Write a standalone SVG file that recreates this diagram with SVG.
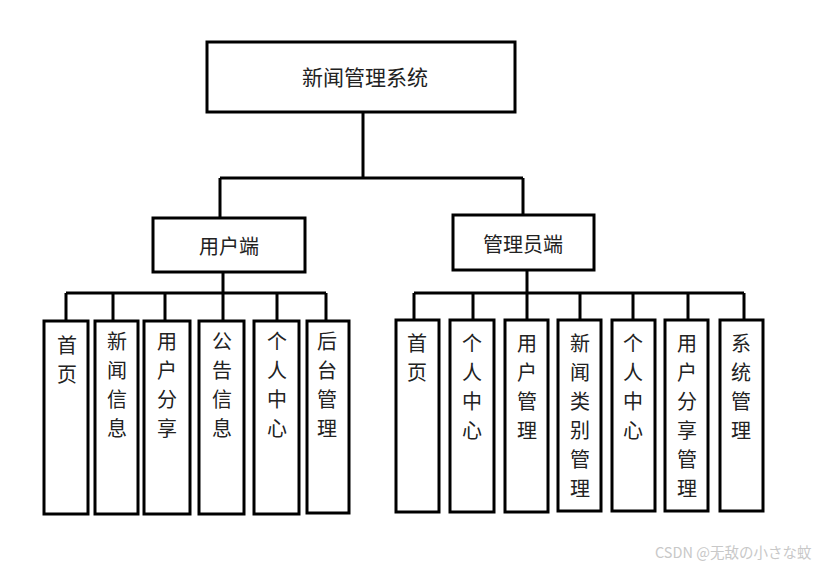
<svg xmlns="http://www.w3.org/2000/svg" width="830" height="569" viewBox="0 0 830 569">
<style>
.box{fill:#fff;stroke:#000;stroke-width:3}
.ln{fill:none;stroke:#000;stroke-width:3}
.t{font-family:"Noto Sans CJK SC","Noto Sans",sans-serif;font-size:20px;fill:#222;text-anchor:middle;dominant-baseline:central}
.wm{font-family:"Noto Sans CJK JP","Noto Sans CJK SC",sans-serif;font-size:14.5px;fill:#c8c8c8}
</style>
<rect width="830" height="569" fill="#fff"/>
<g id="connectors" class="ln">
<path d="M363,112V178M220,178H523M220,178V218M523,178V215"/>
<path d="M223,272V293M66,293H326M66,293V321M113,293V321M165,293V321M223,293V321M277,293V321M326,293V321"/>
<path d="M527,270V293M414,293H744M414,293V320M473,293V320M527,293V320M580,293V320M633,293V320M688,293V320M744,293V320"/>
</g>
<g id="root"><rect class="box" x="207" y="42" width="308" height="70"/><text class="t" x="365" y="76" style="font-size:21px">新闻管理系统</text></g>
<g id="user"><rect class="box" x="153" y="218" width="152" height="54"/><text class="t" x="229" y="245">用户端</text></g>
<g id="admin"><rect class="box" x="453" y="215" width="141" height="55"/><text class="t" x="523" y="243">管理员端</text></g>
<g id="u1"><rect class="box" x="44" y="321" width="44" height="193"/><text class="t" x="67" y="344"><tspan x="67">首</tspan><tspan x="67" dy="29">页</tspan></text></g>
<g id="u2"><rect class="box" x="95" y="321" width="43" height="193"/><text class="t" x="117" y="340"><tspan x="117">新</tspan><tspan x="117" dy="29">闻</tspan><tspan x="117" dy="29">信</tspan><tspan x="117" dy="29">息</tspan></text></g>
<g id="u3"><rect class="box" x="144" y="321" width="46" height="193"/><text class="t" x="167" y="340"><tspan x="167">用</tspan><tspan x="167" dy="29">户</tspan><tspan x="167" dy="29">分</tspan><tspan x="167" dy="29">享</tspan></text></g>
<g id="u4"><rect class="box" x="199" y="321" width="45" height="193"/><text class="t" x="222" y="340"><tspan x="222">公</tspan><tspan x="222" dy="29">告</tspan><tspan x="222" dy="29">信</tspan><tspan x="222" dy="29">息</tspan></text></g>
<g id="u5"><rect class="box" x="254" y="321" width="45" height="193"/><text class="t" x="277" y="340"><tspan x="277">个</tspan><tspan x="277" dy="29">人</tspan><tspan x="277" dy="29">中</tspan><tspan x="277" dy="29">心</tspan></text></g>
<g id="u6"><rect class="box" x="307" y="321" width="42" height="192"/><text class="t" x="327" y="340"><tspan x="327">后</tspan><tspan x="327" dy="29">台</tspan><tspan x="327" dy="29">管</tspan><tspan x="327" dy="29">理</tspan></text></g>
<g id="a1"><rect class="box" x="396" y="320" width="43" height="192"/><text class="t" x="417" y="342"><tspan x="417">首</tspan><tspan x="417" dy="29">页</tspan></text></g>
<g id="a2"><rect class="box" x="450" y="320" width="44" height="192"/><text class="t" x="472" y="342"><tspan x="472">个</tspan><tspan x="472" dy="29">人</tspan><tspan x="472" dy="29">中</tspan><tspan x="472" dy="29">心</tspan></text></g>
<g id="a3"><rect class="box" x="505" y="320" width="43" height="192"/><text class="t" x="527" y="342"><tspan x="527">用</tspan><tspan x="527" dy="29">户</tspan><tspan x="527" dy="29">管</tspan><tspan x="527" dy="29">理</tspan></text></g>
<g id="a4"><rect class="box" x="558" y="320" width="43" height="191"/><text class="t" x="580" y="342"><tspan x="580">新</tspan><tspan x="580" dy="29">闻</tspan><tspan x="580" dy="29">类</tspan><tspan x="580" dy="29">别</tspan><tspan x="580" dy="29">管</tspan><tspan x="580" dy="29">理</tspan></text></g>
<g id="a5"><rect class="box" x="612" y="320" width="43" height="191"/><text class="t" x="633" y="342"><tspan x="633">个</tspan><tspan x="633" dy="29">人</tspan><tspan x="633" dy="29">中</tspan><tspan x="633" dy="29">心</tspan></text></g>
<g id="a6"><rect class="box" x="665" y="320" width="43" height="191"/><text class="t" x="687" y="342"><tspan x="687">用</tspan><tspan x="687" dy="29">户</tspan><tspan x="687" dy="29">分</tspan><tspan x="687" dy="29">享</tspan><tspan x="687" dy="29">管</tspan><tspan x="687" dy="29">理</tspan></text></g>
<g id="a7"><rect class="box" x="720" y="320" width="43" height="191"/><text class="t" x="741" y="342"><tspan x="741">系</tspan><tspan x="741" dy="29">统</tspan><tspan x="741" dy="29">管</tspan><tspan x="741" dy="29">理</tspan></text></g>
<text class="wm" x="655" y="558">CSDN @无敌の小さな蚊</text>
</svg>
